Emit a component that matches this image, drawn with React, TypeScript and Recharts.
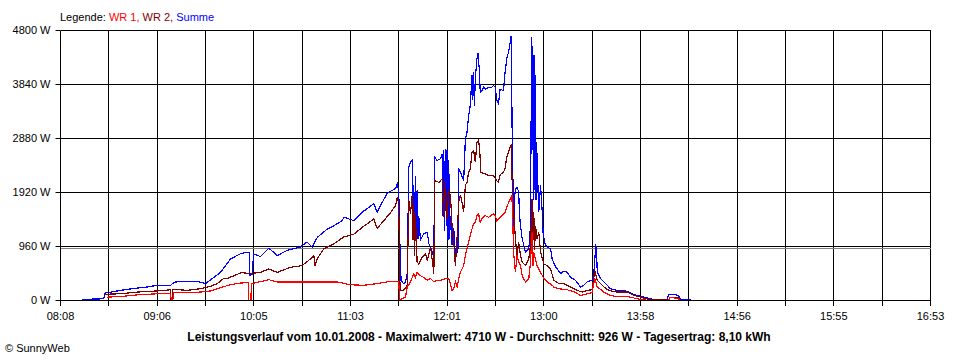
import React from 'react';
import { LineChart, Line, XAxis, YAxis, CartesianGrid, ReferenceLine } from 'recharts';

// Achsen
const timeLabels = ['08:08', '09:06', '10:05', '11:03', '12:01', '13:00', '13:58', '14:56', '15:55', '16:53'];
const wattTicks = [0, 960, 1920, 2880, 3840, 4800];
const averageWatt = 926;

// Summe (Minuten seit Mitternacht / Watt)
const summeTime = [501.1, 514.1, 514.7, 524.2, 531.3, 540.3, 546.4, 554.4, 555.6, 557.4, 570.5, 575.5, 579.5, 584.6, 590.6, 596.6, 600.7, 601.8, 602.2, 603.7, 604.5, 608.7, 613.7, 618.8, 624.8, 632.8, 636.8, 639.9, 642.9, 649, 653, 658, 659, 665, 671, 677.1, 679.1, 681.1, 685.1, 687.1, 690.2, 691.2, 692.1, 692.9, 693.5, 695, 696.2, 697.2, 698.2, 699.2, 700.2, 700.7, 701.2, 701.7, 702.2, 702.7, 703.2, 703.7, 704.2, 705.2, 707.2, 709.3, 710.3, 711.3, 713.3, 713.8, 715.3, 717.3, 718.3, 718.8, 719.3, 719.8, 720.3, 720.8, 721.3, 721.8, 722.3, 722.8, 723.3, 724.3, 725.3, 726.3, 727.3, 727.8, 728.3, 729.3, 731.3, 732.3, 733.3, 734.3, 735.3, 736.3, 736.8, 737.3, 737.8, 738.3, 739.3, 739.9, 740.7, 741.3, 742.3, 743.3, 744.3, 746.3, 748.3, 749.3, 750.3, 751.3, 752.3, 753.3, 755.3, 756.3, 757.3, 758.3, 759.4, 760, 760.6, 761.5, 761.9, 762.5, 763.5, 764.5, 765, 765.6, 766.6, 768.6, 770.6, 771.6, 772, 772.2, 772.6, 773, 773.4, 773.7, 774.2, 774.6, 775, 775.4, 775.8, 776.1, 776.6, 777.7, 778.7, 779.3, 780.7, 781.7, 783.7, 784.7, 786.7, 789.8, 791.7, 793.8, 795.8, 798.8, 801.8, 803.8, 805.8, 808.8, 809.8, 810.6, 810.9, 811.5, 811.9, 813.9, 816.9, 819.9, 823.9, 827.9, 830.9, 833, 836, 840, 844, 848, 854, 855.1, 858, 861, 862, 868.2];
const summeWatt = [20, 30, 130, 180, 210, 240, 270, 270, 300, 330, 340, 300, 390, 500, 740, 830, 860, 860, 450, 460, 830, 780, 930, 800, 890, 950, 1040, 950, 1120, 1270, 1330, 1420, 1480, 1420, 1590, 1720, 1570, 1690, 1900, 1940, 1990, 2080, 1960, 890, 360, 300, 330, 480, 2370, 2460, 2490, 1070, 2050, 1070, 2220, 1160, 1960, 1100, 1510, 1070, 1190, 1210, 1010, 950, 770, 2550, 2490, 2520, 2610, 1510, 2670, 1240, 2700, 1330, 2670, 1070, 2490, 1100, 1510, 980, 1280, 800, 1070, 840, 2350, 2280, 2130, 2850, 2990, 3290, 3470, 4000, 3560, 4060, 3450, 3940, 4300, 4390, 4120, 3700, 3730, 3790, 3760, 3790, 3790, 3820, 3790, 3560, 3500, 3760, 3730, 4060, 4300, 4410, 4590, 4710, 2850, 1330, 1780, 1990, 2010, 1930, 1510, 1330, 1100, 860, 920, 1330, 3200, 4680, 2670, 4530, 1780, 4360, 1960, 4000, 1780, 2810, 1960, 2050, 1570, 2050, 1570, 1160, 980, 950, 920, 740, 600, 480, 520, 500, 410, 360, 240, 270, 330, 360, 480, 800, 1010, 890, 500, 390, 300, 210, 180, 180, 150, 120, 90, 60, 30, 10, 10, 110, 110, 90, 20, 10];

// WR 2
const wr2Time = [514.1, 524.2, 534.3, 546.4, 554.4, 554.7, 555.3, 555.6, 564.5, 572.5, 578.5, 582.5, 586.5, 588.6, 592.6, 597.6, 600.7, 602.7, 608.7, 613.7, 618.8, 626.8, 633.8, 638.9, 640.9, 641.6, 642.9, 646.9, 653, 659, 665, 671, 677.1, 679.1, 683.1, 687.1, 690.2, 691.2, 692.1, 692.9, 695, 697.2, 698.2, 699.2, 700.2, 700.7, 701.2, 701.7, 702.2, 703.2, 704.2, 706.3, 708.3, 709.3, 711.3, 712.5, 713.3, 713.8, 716.3, 718.3, 719.3, 720.3, 721.3, 722.3, 723.3, 724.3, 725.3, 726.3, 727.3, 728.3, 729.3, 730.3, 731.3, 732.3, 733.3, 734.3, 735.3, 736.3, 737.3, 738.3, 739.3, 740.3, 740.9, 741.7, 744.3, 746.3, 749.3, 751.3, 752.3, 753.3, 755.3, 756.3, 757.3, 759.4, 760, 760.8, 761.5, 762.5, 763.5, 764.5, 765.6, 766.6, 768.6, 770.6, 771.6, 772.6, 773.1, 773.6, 774.1, 774.6, 775.6, 776.6, 777.7, 779.7, 781.7, 783.7, 785.7, 788.7, 791.7, 795.8, 799.8, 802.8, 805.8, 808.8, 810.4, 811.9, 815.9, 818.9, 823.9, 830, 834, 838, 842, 844, 854.8, 856, 861, 862];
const wr2Watt = [110, 120, 150, 170, 190, 0, 0, 200, 180, 210, 250, 300, 390, 390, 440, 500, 480, 480, 500, 560, 500, 590, 620, 740, 800, 620, 740, 920, 1010, 1130, 1180, 1320, 1450, 1280, 1420, 1560, 1690, 1840, 1720, 180, 180, 270, 1780, 1540, 1870, 1070, 1690, 800, 1510, 680, 650, 770, 830, 710, 950, 680, 480, 2130, 2100, 2160, 1480, 2100, 1450, 1960, 1870, 1330, 1040, 620, 1100, 1750, 1870, 1750, 1570, 2050, 2100, 2280, 2340, 2640, 2670, 2460, 2810, 2850, 2700, 2280, 2250, 2220, 2220, 2130, 2100, 2240, 2280, 2350, 2550, 2730, 2760, 1810, 1570, 1100, 800, 1040, 800, 680, 620, 740, 980, 1810, 1070, 1570, 890, 1330, 1100, 1210, 860, 650, 620, 560, 360, 300, 300, 240, 180, 150, 180, 190, 530, 360, 240, 180, 150, 150, 90, 60, 30, 10, 10, 60, 60, 0];

// WR 1
const wr1Time = [516.2, 524.2, 534.3, 546.4, 554.4, 554.9, 555.7, 556.4, 564.5, 572.5, 578.5, 584.6, 590.6, 596.6, 601.4, 601.7, 602.9, 603.2, 612.7, 613.7, 618.8, 636.8, 654.9, 663, 671, 679.1, 687.1, 692.1, 692.7, 694.1, 696.2, 697.2, 699.2, 701.2, 702.2, 703.2, 705.2, 707.2, 709.3, 711.3, 713.3, 715.3, 717.3, 720.3, 722.3, 723.3, 724.3, 725.3, 726.3, 727.3, 728.3, 729.3, 731.3, 732.3, 733.3, 734.3, 735.3, 736.3, 737.3, 738.3, 739.3, 740.3, 741.3, 742.3, 744.3, 746.3, 749.3, 750.3, 751.3, 753.3, 755.3, 756.3, 757.3, 759.4, 760.4, 761, 761.4, 762.5, 763.5, 764.5, 765.6, 766.6, 768.6, 770.6, 771.6, 772.6, 773.1, 773.6, 774.6, 775.6, 777.7, 779.7, 781.7, 784.7, 785.7, 788.7, 793.8, 797.8, 801.8, 805.8, 808.8, 810.4, 811.9, 815.9, 819.9, 823.9, 830, 832, 836, 840, 844, 854.8, 856, 861, 862];
const wr1Watt = [60, 70, 100, 120, 130, 0, 0, 140, 140, 150, 170, 230, 280, 310, 320, 0, 0, 300, 360, 370, 330, 330, 330, 280, 270, 300, 340, 340, 0, 30, 60, 240, 330, 480, 410, 500, 440, 410, 360, 390, 330, 360, 360, 390, 390, 300, 180, 210, 330, 240, 390, 500, 620, 800, 920, 1040, 1160, 1270, 1360, 1390, 1510, 1540, 1390, 1450, 1510, 1480, 1540, 1510, 1420, 1480, 1540, 1570, 1660, 1810, 1870, 1330, 860, 500, 800, 680, 620, 440, 330, 390, 680, 1210, 620, 860, 740, 620, 500, 390, 330, 270, 240, 210, 190, 160, 90, 120, 140, 390, 240, 150, 90, 70, 70, 60, 30, 10, 0, 0, 60, 30, 0];

const toMinutes = (s: string) => {
  const [h, m] = s.split(':').map(Number);
  return h * 60 + m;
};

const series = (time: number[], watt: number[]) => time.map((t, i) => ({ t, w: watt[i] }));

const summeData = series(summeTime, summeWatt);
const wr2Data = series(wr2Time, wr2Watt);
const wr1Data = series(wr1Time, wr1Watt);

const startMin = toMinutes(timeLabels[0]);
const endMin = toMinutes(timeLabels[timeLabels.length - 1]);
// ein Gitterstrich zwischen je zwei beschrifteten Zeiten
const gridTicks = Array.from({ length: timeLabels.length * 2 - 1 }, (_, i) => startMin + (i * (endMin - startMin)) / ((timeLabels.length - 1) * 2));

const FONT = '"Liberation Sans", Arial, sans-serif';

export default function App() {
  return (
    <div style={{ position: 'absolute', left: 0, top: 0, width: 960, height: 360, background: '#fff' }}>
      <LineChart width={960} height={360} margin={{ top: 30.5, right: 29.5, bottom: 0, left: 0 }} style={{ fontFamily: FONT }}>
        <CartesianGrid stroke="#000" strokeWidth={1} shapeRendering="crispEdges" />
        <XAxis
          type="number"
          dataKey="t"
          domain={[startMin, endMin]}
          ticks={gridTicks}
          interval={0}
          height={59.5}
          tickSize={5}
          tickMargin={7}
          tickFormatter={(_v: number, i: number) => (i % 2 === 0 ? timeLabels[i / 2] : '')}
          axisLine={{ stroke: '#000' }}
          tickLine={{ stroke: '#000', shapeRendering: 'crispEdges' }}
          tick={{ fill: '#000', fontSize: 11, fontFamily: FONT }}
          allowDataOverflow
        />
        <YAxis
          type="number"
          domain={[0, 4800]}
          ticks={wattTicks}
          interval={0}
          width={60.5}
          tickSize={5}
          tickMargin={5}
          tickFormatter={(v: number) => `${v} W`}
          axisLine={{ stroke: '#000' }}
          tickLine={{ stroke: '#000' }}
          tick={{ fill: '#000', fontSize: 11, fontFamily: FONT }}
        />
        <ReferenceLine y={averageWatt} stroke="#808080" strokeWidth={1} shapeRendering="crispEdges" />
        <Line data={summeData} dataKey="w" type="linear" stroke="#0000ff" strokeWidth={1.2} shapeRendering="crispEdges" dot={false} activeDot={false} isAnimationActive={false} />
        <Line data={wr2Data} dataKey="w" type="linear" stroke="#800000" strokeWidth={1.2} shapeRendering="crispEdges" dot={false} activeDot={false} isAnimationActive={false} />
        <Line data={wr1Data} dataKey="w" type="linear" stroke="#ff0000" strokeWidth={1.2} shapeRendering="crispEdges" dot={false} activeDot={false} isAnimationActive={false} />
      </LineChart>
      <svg width={960} height={360} style={{ position: 'absolute', left: 0, top: 0, pointerEvents: 'none' }} fontFamily={FONT}>
        <text x={60} y={21} fontSize={11}>
          <tspan fill="#000">Legende: </tspan>
          <tspan fill="#ff0000">WR 1, </tspan>
          <tspan fill="#800000">WR 2, </tspan>
          <tspan fill="#0000ff">Summe</tspan>
        </text>
        <text x={479} y={341} fontSize={12} fontWeight="bold" textAnchor="middle" fill="#000">
          Leistungsverlauf vom 10.01.2008 - Maximalwert: 4710 W - Durchschnitt: 926 W - Tagesertrag: 8,10 kWh
        </text>
        <text x={5} y={352} fontSize={11} fill="#000">
          © SunnyWeb
        </text>
      </svg>
    </div>
  );
}
